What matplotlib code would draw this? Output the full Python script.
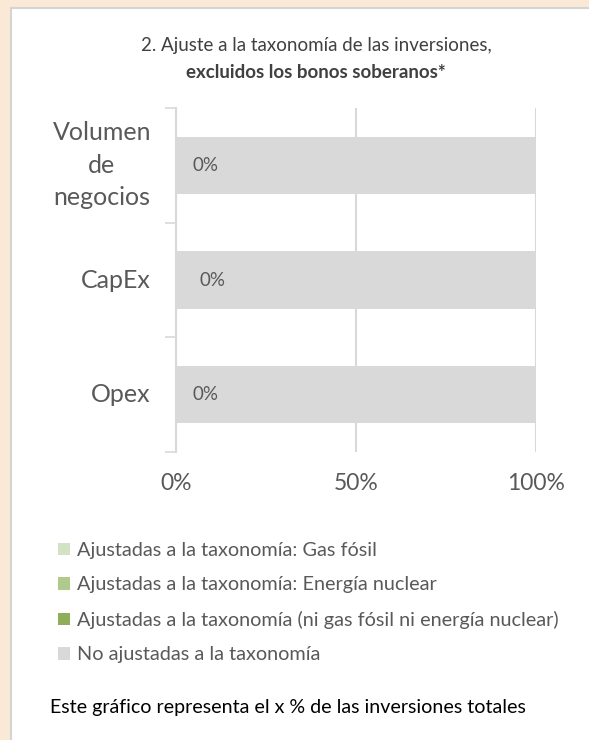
import matplotlib
matplotlib.use("Agg")
import matplotlib.pyplot as plt
from matplotlib.patches import Rectangle
from matplotlib.ticker import FixedLocator

plt.rcParams['font.family'] = ['Lato', 'DejaVu Sans']

categorias = ['Volumen\nde\nnegocios', 'CapEx', 'Opex']
series = [
    'Ajustadas a la taxonomía: Gas fósil',
    'Ajustadas a la taxonomía: Energía nuclear',
    'Ajustadas a la taxonomía (ni gas fósil ni energía nuclear)',
    'No ajustadas a la taxonomía',
]
valores = [
    [0, 0, 0],
    [0, 0, 0],
    [0, 0, 0],
    [100, 100, 100],
]
colores = ['#d3e2c2', '#b0c98d', '#8fae5a', '#d9d9d9']
ticks_x = [0, 50, 100]

gris = '#595959'
W, H = 589, 740

fig = plt.figure(figsize=(W / 100, H / 100), dpi=100)
fig.patch.set_facecolor('#fbe9d8')

# recuadro blanco
fig.patches.append(Rectangle((11 / W, -0.01), 1.0, 1 - 8 / H + 0.01,
                             transform=fig.transFigure, facecolor='white',
                             edgecolor='#d4d4d4', linewidth=1.5, zorder=-10))

ax = fig.add_axes([176 / W, 1 - 452 / H, 360 / W, 344 / H])
ax.set_facecolor('none')
ax.set_zorder(1)

y = list(range(len(categorias)))
izq = [0] * len(categorias)
barras = []
for nombre, vals, col in zip(series, valores, colores):
    b = ax.barh(y, vals, left=izq, height=0.5, color=col, label=nombre, zorder=2)
    barras.append(b)
    izq = [a + v for a, v in zip(izq, vals)]

# etiqueta: % ajustado a la taxonomía
ajustado = [sum(v[i] for v in valores[:3]) for i in range(len(categorias))]
desplaz = [12, 17, 12]
for i, a in enumerate(ajustado):
    ax.annotate(f'{a:.0f}%', (0, i), xytext=(desplaz[i], 0), textcoords='offset points',
                ha='left', va='center', fontsize=13.5, color=gris, zorder=3)

ax.set_xlim(0, 100)
ax.set_ylim(len(categorias) - 0.5, -0.5)
ax.set_xticks(ticks_x)
ax.set_xticklabels([f'{t}%' for t in ticks_x], fontsize=16.5, color=gris)
ax.set_yticks(y)
ax.set_yticklabels(categorias, fontsize=18, color=gris, multialignment='center',
                   linespacing=1.5)
for t in ax.get_yticklabels():
    t.set_va('center')
ax.tick_params(axis='y', which='major', length=0, pad=18)
ax.tick_params(axis='x', which='major', length=0, pad=15)
ax.yaxis.set_minor_locator(FixedLocator([-0.5, 0.5, 1.5, 2.5]))
ax.tick_params(axis='y', which='minor', length=8, width=1.2, color='#d9d9d9')

for s in ['top', 'right', 'bottom']:
    ax.spines[s].set_visible(False)
ax.spines['left'].set_color('#d9d9d9')
ax.spines['left'].set_linewidth(1.5)
ax.xaxis.grid(True, color='#d9d9d9', linewidth=1.5, zorder=1)
ax.set_axisbelow(True)

fig.text(316 / W, 1 - 45 / H, '2. Ajuste a la taxonomía de las inversiones,',
         ha='center', va='center', fontsize=13.5, color='#404040')
fig.text(316 / W, 1 - 73 / H, 'excluidos los bonos soberanos*',
         ha='center', va='center', fontsize=13.5, color='#404040', fontweight='bold')

leg = fig.legend(handles=barras, labels=series, loc='upper left',
                 bbox_to_anchor=(50 / W, 1 - 534 / H), frameon=False,
                 fontsize=14.3, labelcolor=gris, handlelength=0.6, handleheight=0.6,
                 handletextpad=0.35, labelspacing=0.88, borderaxespad=0)

fig.text(50 / W, 1 - 707 / H, 'Este gráfico representa el x % de las inversiones totales',
         ha='left', va='center', fontsize=14.1, color='black')

fig.savefig('out.png', dpi=100, facecolor=fig.get_facecolor())
